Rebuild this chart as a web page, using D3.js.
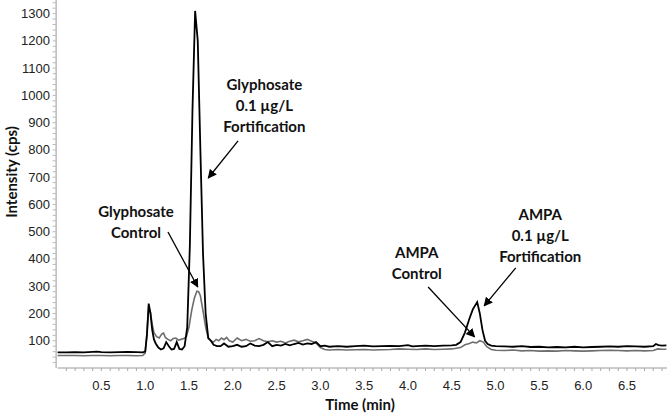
<!DOCTYPE html>
<html>
<head>
<meta charset="utf-8">
<script src="https://cdn.jsdelivr.net/npm/d3@7"></script>
<style>
  body { margin: 0; background: #fff; }
  .tick text { font-family: "Liberation Sans", Arial, sans-serif; font-size: 13px; fill: #222; }
  .lbl { font-family: Lato, "Open Sans", sans-serif; font-weight: bold; font-size: 15px; fill: #111; }
</style>
</head>
<body>
<div id="chart"></div>
<script>
// retention time (min) and intensity (cps) for the 0.1 ug/L fortification trace
const fortTime = [0.00,0.10,0.20,0.30,0.40,0.45,0.50,0.60,0.70,0.80,0.90,0.97,1.00,1.02,1.04,1.06,1.08,1.10,1.12,1.15,
  1.18,1.21,1.24,1.27,1.30,1.33,1.36,1.39,1.42,1.45,1.48,1.51,1.54,1.57,1.60,1.63,1.66,1.69,1.72,1.75,
  1.78,1.82,1.86,1.90,1.95,2.00,2.05,2.10,2.15,2.20,2.25,2.30,2.35,2.40,2.45,2.50,2.55,2.60,2.65,2.70,
  2.75,2.80,2.85,2.90,2.95,3.00,3.05,3.10,3.20,3.30,3.40,3.50,3.60,3.70,3.80,3.90,4.00,4.05,4.10,4.20,
  4.30,4.40,4.50,4.55,4.60,4.65,4.70,4.74,4.79,4.82,4.85,4.88,4.91,4.95,5.00,5.10,5.20,5.30,5.40,5.50,
  5.60,5.70,5.80,5.90,6.00,6.10,6.20,6.30,6.40,6.50,6.60,6.70,6.80,6.83,6.86,6.90,6.95]
const fortValue = [57,57,58,57,59,60,58,57,58,59,58,57,60,120,236,200,140,105,90,75,
  68,72,95,80,68,70,95,70,68,80,150,450,950,1310,1200,800,420,200,110,100,
  85,80,80,90,78,80,85,78,80,90,82,80,85,95,80,85,82,88,83,88,
  92,86,90,88,95,80,82,78,80,78,80,82,79,80,81,80,84,79,80,82,
  80,82,83,85,95,130,180,215,242,200,140,100,88,82,80,79,78,80,77,78,
  76,77,76,78,76,77,78,79,78,80,79,78,80,88,84,82,83]

// control trace
const ctrlTime = [0.00,0.10,0.20,0.30,0.40,0.50,0.60,0.70,0.80,0.90,0.97,1.00,1.02,1.04,1.06,1.08,1.10,1.13,1.16,1.19,
  1.21,1.23,1.26,1.29,1.32,1.35,1.38,1.41,1.44,1.47,1.50,1.53,1.56,1.59,1.61,1.63,1.66,1.69,1.72,1.75,
  1.78,1.81,1.84,1.87,1.90,1.93,1.96,2.00,2.05,2.10,2.15,2.20,2.25,2.30,2.35,2.40,2.45,2.50,2.55,2.60,
  2.65,2.70,2.75,2.80,2.85,2.90,2.95,3.00,3.05,3.10,3.20,3.30,3.40,3.50,3.60,3.70,3.80,3.90,4.00,4.10,
  4.20,4.30,4.40,4.50,4.60,4.65,4.70,4.74,4.78,4.82,4.86,4.90,4.95,5.00,5.10,5.20,5.30,5.40,5.50,5.60,
  5.70,5.80,5.90,6.00,6.10,6.20,6.30,6.40,6.50,6.60,6.70,6.80,6.85,6.90,6.95]
const ctrlValue = [46,46,46,45,46,46,45,46,46,45,46,55,130,225,205,160,130,115,110,125,
  128,112,105,100,108,110,102,105,108,115,150,210,255,282,280,265,210,150,110,100,
  95,105,100,110,104,112,100,95,110,100,105,98,100,108,100,96,100,95,98,92,
  98,102,96,100,105,98,92,75,68,66,68,66,67,68,66,67,68,70,69,68,
  70,68,69,70,75,85,90,95,92,100,95,78,68,65,64,66,63,64,62,63,
  62,64,63,62,63,64,65,64,63,64,63,64,70,69,69]

const yTicks = [100,200,300,400,500,600,700,800,900,1000,1100,1200,1300]
const xTicks = [0.5,1.0,1.5,2.0,2.5,3.0,3.5,4.0,4.5,5.0,5.5,6.0,6.5]

// annotations: text lines at (t, v), arrow from (t0,v0) to (t1,v1)
const notes = [
  {lines: ["Glyphosate","0.1 \u00b5g/L","Fortification"], t: 2.36, v: 1039, a: [2.06, 833, 1.72, 697]},
  {lines: ["Glyphosate","Control"], t: 0.895, v: 572, a: [1.26, 499, 1.60, 297]},
  {lines: ["AMPA","0.1 \u00b5g/L","Fortification"], t: 5.51, v: 561, a: [5.23, 367, 4.87, 228]},
  {lines: ["AMPA","Control"], t: 4.10, v: 422, a: [4.23, 297, 4.76, 114]}
]

const W = 667, H = 415
const x = d3.scaleLinear().domain([0, 6.95]).range([57.6, 666.4])
const y = d3.scaleLinear().domain([0, 1350]).range([368, 0])

const svg = d3.select("#chart").append("svg").attr("width", W).attr("height", H)

svg.append("defs").append("marker")
  .attr("id", "ah").attr("viewBox", "0 0 10 10").attr("refX", 9).attr("refY", 5)
  .attr("markerWidth", 9).attr("markerHeight", 9).attr("markerUnits", "userSpaceOnUse")
  .attr("orient", "auto")
  .append("path").attr("d", "M0,0L10,5L0,10z").attr("fill", "#000")

// minor ticks
const xMinor = d3.range(1, 70).map(d => d / 10)
const yMinor = d3.range(1, 68).map(d => d * 20)

const xAxis = svg.append("g").attr("transform", "translate(0," + y(0) + ")")
xAxis.append("line").attr("x1", x(0)).attr("x2", W).attr("stroke", "#999")
xAxis.selectAll(".mn").data(xMinor).enter().append("line")
  .attr("x1", d => x(d)).attr("x2", d => x(d)).attr("y1", 0).attr("y2", 3).attr("stroke", "#aaa")
xAxis.selectAll(".tick").data(xTicks).enter().append("g").attr("class", "tick")
  .append("text").attr("x", d => x(d)).attr("y", 22).attr("text-anchor", "middle")
  .text(d => d.toFixed(1))

const yAxis = svg.append("g")
yAxis.append("line").attr("x1", x(0) - 1.5).attr("x2", x(0) - 1.5).attr("y1", 0).attr("y2", y(0)).attr("stroke", "#999")
yAxis.selectAll(".mn").data(yMinor).enter().append("line")
  .attr("x1", x(0) - 5).attr("x2", x(0) - 1.5).attr("y1", d => y(d)).attr("y2", d => y(d)).attr("stroke", "#bbb")
yAxis.selectAll(".tick").data(yTicks).enter().append("g").attr("class", "tick")
  .append("text").attr("x", 50).attr("y", d => y(d) + 4.5).attr("text-anchor", "end")
  .text(d => d)

svg.append("text").attr("class", "lbl")
  .attr("transform", "translate(17,172) rotate(-90)").attr("text-anchor", "middle")
  .text("Intensity (cps)")
svg.append("text").attr("class", "lbl").attr("x", 360).attr("y", 410).attr("text-anchor", "middle")
  .text("Time (min)")

const line = d3.line().x(d => x(d[0])).y(d => y(d[1]))

svg.append("path").datum(d3.zip(ctrlTime, ctrlValue))
  .attr("d", line).attr("fill", "none").attr("stroke", "#6e6e6e").attr("stroke-width", 1.6)
svg.append("path").datum(d3.zip(fortTime, fortValue))
  .attr("d", line).attr("fill", "none").attr("stroke", "#000").attr("stroke-width", 1.8)

notes.forEach(n => {
  const t = svg.append("text").attr("class", "lbl").attr("text-anchor", "middle")
  n.lines.forEach((s, i) => {
    t.append("tspan").attr("x", x(n.t)).attr("y", y(n.v) + 5 + i * 21).text(s)
  })
  svg.append("line")
    .attr("x1", x(n.a[0])).attr("y1", y(n.a[1])).attr("x2", x(n.a[2])).attr("y2", y(n.a[3]))
    .attr("stroke", "#000").attr("stroke-width", 1.3).attr("marker-end", "url(#ah)")
})
</script>
</body>
</html>
